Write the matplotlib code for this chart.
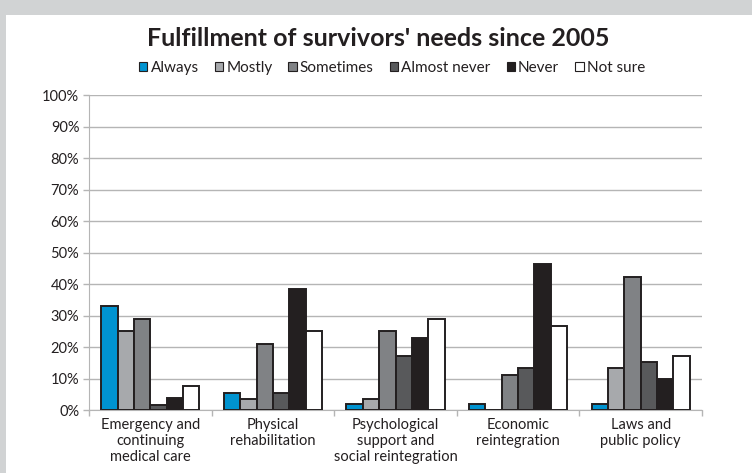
import matplotlib
matplotlib.use("Agg")
import matplotlib.pyplot as plt
import numpy as np
from matplotlib.patches import Rectangle
from matplotlib.ticker import FuncFormatter

plt.rcParams['font.family'] = ['Lato', 'DejaVu Sans']

categories = ["Emergency and\ncontinuing\nmedical care", "Physical\nrehabilitation",
              "Psychological\nsupport and\nsocial reintegration", "Economic\nreintegration",
              "Laws and\npublic policy"]
series = ["Always", "Mostly", "Sometimes", "Almost never", "Never", "Not sure"]
always = [33, 5.5, 2, 2, 2]
mostly = [25, 3.5, 3.5, 0, 13.2]
sometimes = [29, 21, 25, 11.2, 42.2]
almost_never = [1.5, 5.5, 17, 13.2, 15.2]
never = [3.7, 38.3, 23, 46.2, 9.7]
not_sure = [7.5, 25, 29, 26.8, 17]
values = [always, mostly, sometimes, almost_never, never, not_sure]
colors = ["#0093d0", "#a7a9ac", "#808285", "#58595b", "#231f20", "#ffffff"]

fig = plt.figure(figsize=(7.52, 4.73), dpi=100)
fig.patch.set_facecolor("#d1d3d4")
fig.patches.append(Rectangle((6/752, 0), 1, 1 - 15/473, transform=fig.transFigure,
                             facecolor="white", edgecolor="none", zorder=-10))

ax = fig.add_axes([89/752, 1 - 410/473, (702-89)/752, (410-95)/473])
ax.set_facecolor("white")
x = np.arange(len(categories))
w = 0.8 / 6
for i, (vals, c) in enumerate(zip(values, colors)):
    ax.bar(x - 0.4 + w * (i + 0.5), vals, width=w, color=c, edgecolor="#231f20",
           linewidth=1.4, label=series[i], zorder=3)

ax.set_ylim(0, 100)
ax.set_xlim(-0.5, len(categories) - 0.5)
ax.set_yticks(np.arange(0, 101, 10))
ax.yaxis.set_major_formatter(FuncFormatter(lambda v, p: f"{int(v)}%"))
ax.grid(axis="y", color="#b5b5b5", linewidth=1, zorder=0)
ax.set_axisbelow(True)
ax.set_xticks(x)
ax.set_xticklabels(categories, fontsize=10.5, color="#231f20", linespacing=1.15)
ax.set_xticks(np.arange(-0.5, len(categories)), minor=True)
ax.tick_params(axis="x", which="major", length=0, pad=6)
ax.tick_params(axis="x", which="minor", length=4, color="#b5b5b5", width=1)
ax.tick_params(axis="y", length=4, color="#b5b5b5", width=1, labelsize=10.5,
               labelcolor="#231f20", pad=3)
for s in ["top", "right"]:
    ax.spines[s].set_visible(False)
ax.spines["left"].set_color("#b5b5b5")
ax.spines["bottom"].set_color("#b5b5b5")

fig.text(378/752, 1 - 38/473, "Fulfillment of survivors' needs since 2005", ha="center",
         va="center", fontsize=18, fontweight="bold", color="#231f20")
leg = fig.legend(loc="center", bbox_to_anchor=(392/752, 1 - 68/473), ncol=6, frameon=False,
                 fontsize=11, handlelength=0.55, handleheight=0.55, handletextpad=0.2,
                 columnspacing=1.05, borderaxespad=0)
for h in leg.legend_handles:
    h.set_linewidth(0.8)
for t in leg.get_texts():
    t.set_color("#231f20")

fig.savefig("out.png", dpi=100, facecolor=fig.get_facecolor())
